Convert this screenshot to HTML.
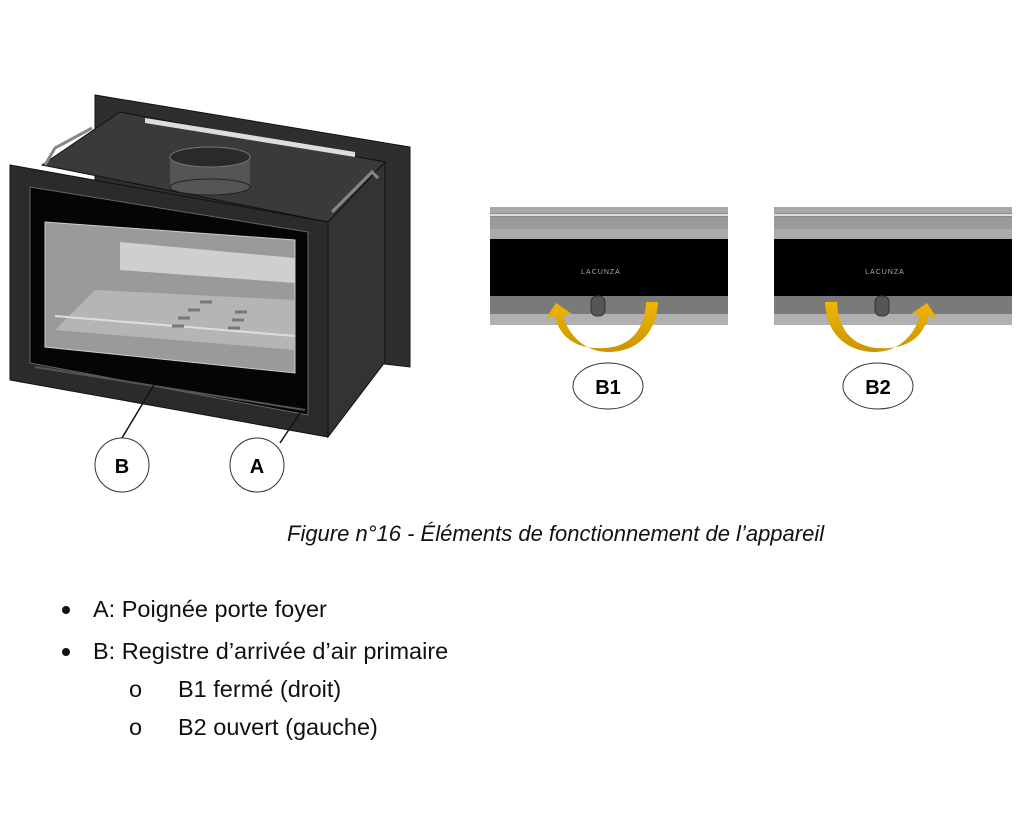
<!DOCTYPE html>
<html><head><meta charset="utf-8"><style>
body{margin:0;background:#fff;width:1024px;height:826px;overflow:hidden;position:relative;font-family:"Liberation Sans",sans-serif}
.t{position:absolute;font-size:23.5px;color:#111;white-space:nowrap}
</style></head><body>
<svg width="1024" height="826" style="position:absolute;left:0;top:0">
<defs><linearGradient id="y" x1="0" y1="0" x2="0" y2="1"><stop offset="0" stop-color="#f2b600"/><stop offset="1" stop-color="#c99400"/></linearGradient></defs>
<polygon points="95,95 410,147 410,367 95,330" fill="#2e2e2e" stroke="#111"/>
<polygon points="42,165 120,112 385,162 328,222" fill="#3a3a3a" stroke="#111"/>
<polygon points="145,118 355,152 355,157 145,123" fill="#ddd"/>
<polygon points="328,222 385,162 385,362 328,437" fill="#333" stroke="#111"/>
<path d="M45,165 L55,148 L92,128" stroke="#888" stroke-width="3" fill="none"/>
<path d="M332,212 L372,172 L378,178" stroke="#888" stroke-width="3" fill="none"/>
<rect x="170" y="157" width="80" height="30" fill="#555"/>
<ellipse cx="210" cy="187" rx="40" ry="8" fill="#555" stroke="#222"/>
<ellipse cx="210" cy="157" rx="40" ry="10" fill="#2a2a2a" stroke="#777"/>
<polygon points="10,165 328,222 328,437 10,380" fill="#2b2b2b" stroke="#111"/>
<polygon points="30,187 308,232 308,415 30,363" fill="#050505" stroke="#666"/>
<polygon points="45,222 295,240 295,373 45,347" fill="#9a9a9a" stroke="#ccc"/>
<polygon points="120,242 295,258 295,283 120,270" fill="#cfcfcf"/>
<polygon points="95,290 295,300 295,350 55,330" fill="#b5b5b5"/>
<line x1="55" y1="316" x2="295" y2="336" stroke="#ddd" stroke-width="2"/>
<g stroke="#777" stroke-width="3"><line x1="200" y1="302" x2="212" y2="302"/><line x1="188" y1="310" x2="200" y2="310"/><line x1="178" y1="318" x2="190" y2="318"/><line x1="172" y1="326" x2="184" y2="326"/><line x1="235" y1="312" x2="247" y2="312"/><line x1="232" y1="320" x2="244" y2="320"/><line x1="228" y1="328" x2="240" y2="328"/></g>
<line x1="35" y1="367" x2="305" y2="410" stroke="#555" stroke-width="2"/>
<line x1="122" y1="438" x2="155" y2="383" stroke="#111" stroke-width="1.5"/>
<line x1="280" y1="443" x2="302" y2="410" stroke="#111" stroke-width="1.5"/>
<circle cx="122" cy="465" r="27" fill="#fff" stroke="#333"/>
<circle cx="257" cy="465" r="27" fill="#fff" stroke="#333"/>
<text x="122" y="473" text-anchor="middle" font-family="Liberation Sans" font-weight="bold" font-size="20">B</text>
<text x="257" y="473" text-anchor="middle" font-family="Liberation Sans" font-weight="bold" font-size="20">A</text>
<g id="p1">
<rect x="490" y="207" width="238" height="118" fill="#8a8a8a"/>
<rect x="490" y="207" width="238" height="6" fill="#a8a8a8"/>
<rect x="490" y="214" width="238" height="2" fill="#ddd"/>
<rect x="490" y="217" width="238" height="12" fill="#9a9a9a"/>
<rect x="490" y="229" width="238" height="10" fill="#aaa"/>
<rect x="490" y="239" width="238" height="57" fill="#000"/>
<rect x="490" y="296" width="238" height="18" fill="#7a7a7a"/>
<rect x="490" y="314" width="238" height="11" fill="#b0b0b0"/>
</g>
<use href="#p1" x="284"/>
<text x="601" y="274" text-anchor="middle" fill="#aaa" font-family="Liberation Sans" font-size="7" letter-spacing="1">LACUNZA</text>
<text x="885" y="274" text-anchor="middle" fill="#aaa" font-family="Liberation Sans" font-size="7" letter-spacing="1">LACUNZA</text>
<rect x="591" y="296" width="14" height="20" rx="6" fill="#555" stroke="#333"/>
<rect x="875" y="296" width="14" height="20" rx="6" fill="#555" stroke="#333"/>
<path d="M646,302 L658,302 C656,340 630,352 608,352 C585,352 568,335 563,315 L572,314 L556,303 L546,318 L555,316 C560,340 580,350 606,348 C630,346 645,330 646,302 Z" fill="url(#y)"/>
<path d="M825,302 L837,302 C838,330 853,346 877,348 C903,350 923,340 928,316 L937,318 L927,303 L911,314 L920,315 C915,335 898,352 875,352 C853,352 827,340 825,302 Z" fill="url(#y)"/>
<ellipse cx="608" cy="386" rx="35" ry="23" fill="#fff" stroke="#333"/>
<ellipse cx="878" cy="386" rx="35" ry="23" fill="#fff" stroke="#333"/>
<text x="608" y="394" text-anchor="middle" font-family="Liberation Sans" font-weight="bold" font-size="20">B1</text>
<text x="878" y="394" text-anchor="middle" font-family="Liberation Sans" font-weight="bold" font-size="20">B2</text>
<circle cx="66" cy="610" r="4" fill="#111"/>
<circle cx="66" cy="652" r="4" fill="#111"/>
</svg>
<div class="t" style="left:287px;top:521px;font-style:italic;font-size:22px">Figure n°16 - Éléments de fonctionnement de l’appareil</div>
<div class="t" style="left:93px;top:596px">A: Poignée porte foyer</div>
<div class="t" style="left:93px;top:638px">B: Registre d’arrivée d’air primaire</div>
<div class="t" style="left:129px;top:676px">o</div>
<div class="t" style="left:178px;top:676px">B1 fermé (droit)</div>
<div class="t" style="left:129px;top:714px">o</div>
<div class="t" style="left:178px;top:714px">B2 ouvert (gauche)</div>
</body></html>
